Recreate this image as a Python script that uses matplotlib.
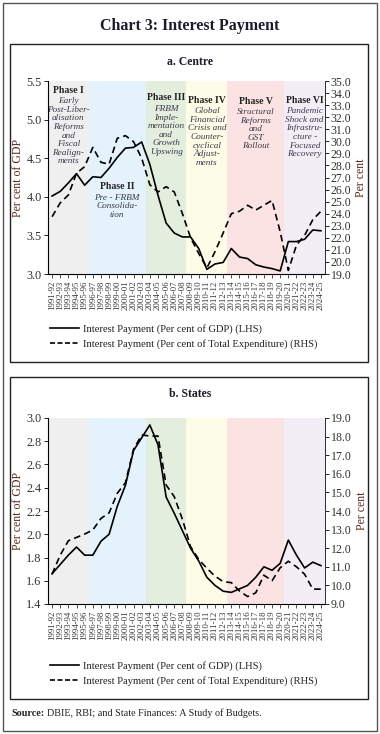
import matplotlib
matplotlib.use("Agg")
import matplotlib.pyplot as plt
from matplotlib.patches import Rectangle
from matplotlib.lines import Line2D

# --- data ---
years = ["1991-92", "1992-93", "1993-94", "1994-95", "1995-96", "1996-97", "1997-98",
         "1998-99", "1999-00", "2000-01", "2001-02", "2002-03", "2003-04", "2004-05",
         "2005-06", "2006-07", "2007-08", "2008-09", "2009-10", "2010-11", "2011-12",
         "2012-13", "2013-14", "2014-15", "2015-16", "2016-17", "2017-18", "2018-19",
         "2019-20", "2020-21", "2021-22", "2022-23", "2023-24", "2024-25"]

centre_gdp = [4.01, 4.07, 4.18, 4.30, 4.15, 4.26, 4.25, 4.37, 4.51, 4.63, 4.64, 4.71,
              4.42, 4.02, 3.66, 3.53, 3.48, 3.48, 3.33, 3.06, 3.13, 3.15, 3.33, 3.22,
              3.20, 3.12, 3.09, 3.07, 3.04, 3.42, 3.42, 3.45, 3.57, 3.56]
centre_exp = [23.75, 24.9, 25.55, 27.35, 27.9, 29.5, 28.26, 28.1, 30.25, 30.47, 29.97, 28.6,
              26.4, 25.8, 26.24, 25.8, 24.0, 22.0, 20.7, 19.5, 20.85, 22.4, 24.0, 24.2,
              24.7, 24.3, 24.7, 25.1, 22.5, 19.3, 21.4, 22.2, 23.5, 24.2]

states_gdp = [1.66, 1.74, 1.82, 1.89, 1.82, 1.82, 1.94, 2.00, 2.24, 2.42, 2.72, 2.83,
              2.94, 2.77, 2.32, 2.18, 2.03, 1.88, 1.77, 1.63, 1.56, 1.51, 1.50, 1.53,
              1.56, 1.63, 1.72, 1.69, 1.75, 1.95, 1.82, 1.71, 1.76, 1.73]
states_exp = [10.61, 11.63, 12.4, 12.58, 12.76, 12.98, 13.6, 13.9, 14.95, 15.52, 17.32, 18.09,
              18.03, 18.03, 15.4, 14.77, 13.55, 12.08, 11.4, 10.92, 10.5, 10.2, 10.15, 9.7,
              9.4, 9.6, 10.55, 10.25, 10.95, 11.3, 11.0, 10.6, 9.8, 9.8]

# phase bands (start/end as category positions)
phase_edges = [-0.5, 4.5, 11.5, 16.5, 21.5, 28.5, 33.5]
phase_colors = ["#efefef", "#e3f2fb", "#e4eedf", "#fdfce6", "#fbe3e3", "#f3eef6"]
phase_titles = ["Phase I", "Phase II", "Phase III", "Phase IV", "Phase V", "Phase VI"]
phase_texts = ["Early\nPost-Liber-\nalisation\nReforms\nand\nFiscal\nRealign-\nments",
               "Pre - FRBM\nConsolida-\ntion",
               "FRBM\nImple-\nmentation\nand\nGrowth\nUpswing",
               "Global\nFinancial\nCrisis and\nCounter-\ncyclical\nAdjust-\nments",
               "Structural\nReforms\nand\nGST\nRollout",
               "Pandemic\nShock and\nInfrastru-\ncture -\nFocused\nRecovery"]
phase_title_y = [5.38, 4.13, 5.28, 5.25, 5.24, 5.25]

lbl_gdp = "Interest Payment (Per cent of GDP) (LHS)"
lbl_exp = "Interest Payment (Per cent of Total Expenditure) (RHS)"

plt.rcParams['font.family'] = ['Liberation Serif', 'DejaVu Serif']

W, H = 380, 734
fig = plt.figure(figsize=(W / 100, H / 100), dpi=100)
fig.patch.set_facecolor("white")


def fx(px):
    return px / W


def fy(py):
    return 1 - py / H


def box(x0, y0, x1, y1, color, lw):
    fig.patches.append(Rectangle((fx(x0), fy(y1)), fx(x1) - fx(x0), fy(y0) - fy(y1),
                                 transform=fig.transFigure, fill=False,
                                 edgecolor=color, linewidth=lw))


box(2.5, 2.5, 377, 731, "#555555", 1.0)
box(10, 44, 368, 362, "#222222", 1.0)
box(10, 377, 368, 699, "#222222", 1.0)

fig.text(0.5, fy(26), "Chart 3: Interest Payment", ha="center", va="center",
         fontsize=11.5, fontweight="bold", color="#1c1c2a")
fig.text(0.5, fy(62), "a. Centre", ha="center", va="center", fontsize=8.5,
         fontweight="bold", color="#1c1c2a")
fig.text(0.5, fy(394), "b. States", ha="center", va="center", fontsize=8.5,
         fontweight="bold", color="#1c1c2a")
fig.text(fx(11), fy(713), "Source:", ha="left", va="center", fontsize=7.3,
         fontweight="bold", color="#222222")
fig.text(fx(47), fy(713), "DBIE, RBI; and State Finances: A Study of Budgets.",
         ha="left", va="center", fontsize=7.3, color="#222222")

tick_col = "#333333"
lab_col = "#5a2a1c"
x = list(range(len(years)))


def panel(top_px, bot_px, gdp, exp, ylim_l, yt_l, ylim_r, yt_r, legend_y, phases):
    ax = fig.add_axes([fx(48), fy(bot_px), fx(325) - fx(48), fy(top_px) - fy(bot_px)])
    for i in range(len(phase_colors)):
        ax.axvspan(phase_edges[i], phase_edges[i + 1], color=phase_colors[i], lw=0, zorder=0)
    ax.plot(x, gdp, color="black", lw=1.2, zorder=3)
    ax.set_xlim(-0.5, 33.5)
    ax.set_ylim(*ylim_l)
    ax.set_yticks(yt_l)
    ax.set_yticklabels([f"{v:.1f}" for v in yt_l])
    ax.set_xticks(x)
    ax.set_xticklabels(years, rotation=90, fontsize=6.3, color=tick_col)
    ax.tick_params(axis="x", length=3, width=0.6, pad=1.5, color="#333333")
    ax.tick_params(axis="y", labelsize=8.8, labelcolor=tick_col, length=3, width=0.6, pad=1.5)
    ax.set_ylabel("Per cent of GDP", fontsize=8.5, color=lab_col, labelpad=2)
    ax.spines["top"].set_visible(False)
    for s in ["left", "bottom", "right"]:
        ax.spines[s].set_linewidth(0.7)
        ax.spines[s].set_color("#333333")

    ax2 = ax.twinx()
    ax2.plot(x, exp, color="black", lw=1.2, ls=(0, (4, 2.5)), zorder=3)
    ax2.set_ylim(*ylim_r)
    ax2.set_yticks(yt_r)
    ax2.set_yticklabels([f"{v:.1f}" for v in yt_r])
    ax2.tick_params(axis="y", labelsize=8.6, labelcolor=tick_col, length=3, width=0.6, pad=1)
    ax2.set_ylabel("Per cent", fontsize=8.5, color=lab_col, labelpad=3)
    ax2.spines["top"].set_visible(False)
    ax2.spines["right"].set_linewidth(0.7)
    ax2.spines["right"].set_color("#333333")

    if phases:
        for i in range(len(phase_titles)):
            cx = (phase_edges[i] + phase_edges[i + 1]) / 2
            ax.text(cx, phase_title_y[i], phase_titles[i], ha="center", va="center",
                    fontsize=7.0, fontweight="bold", color="#222222", zorder=4)
            ax.annotate(phase_texts[i], (cx, phase_title_y[i]), xytext=(0, -5.0),
                        textcoords="offset points", ha="center", va="top",
                        fontsize=6.7, style="italic", color="#3a3a4a",
                        linespacing=1.1, zorder=4)

    handles = [Line2D([], [], color="black", lw=1.2),
               Line2D([], [], color="black", lw=1.2, ls=(0, (3, 1.5)))]
    fig.legend(handles, [lbl_gdp, lbl_exp], loc="upper left",
               bbox_to_anchor=(fx(50), fy(legend_y)), bbox_transform=fig.transFigure,
               frameon=False, fontsize=7.6, handlelength=2.7, handletextpad=0.45,
               labelspacing=0.45, borderpad=0, borderaxespad=0, labelcolor="#222222")
    return ax


panel(81, 274, centre_gdp, centre_exp, (3.0, 5.5), [3.0, 3.5, 4.0, 4.5, 5.0, 5.5],
      (19, 35), list(range(19, 36)), 324, True)
panel(418, 604, states_gdp, states_exp, (1.4, 3.0),
      [1.4, 1.6, 1.8, 2.0, 2.2, 2.4, 2.6, 2.8, 3.0],
      (9, 19), list(range(9, 20)), 661, False)

fig.savefig("out.png", dpi=100)
